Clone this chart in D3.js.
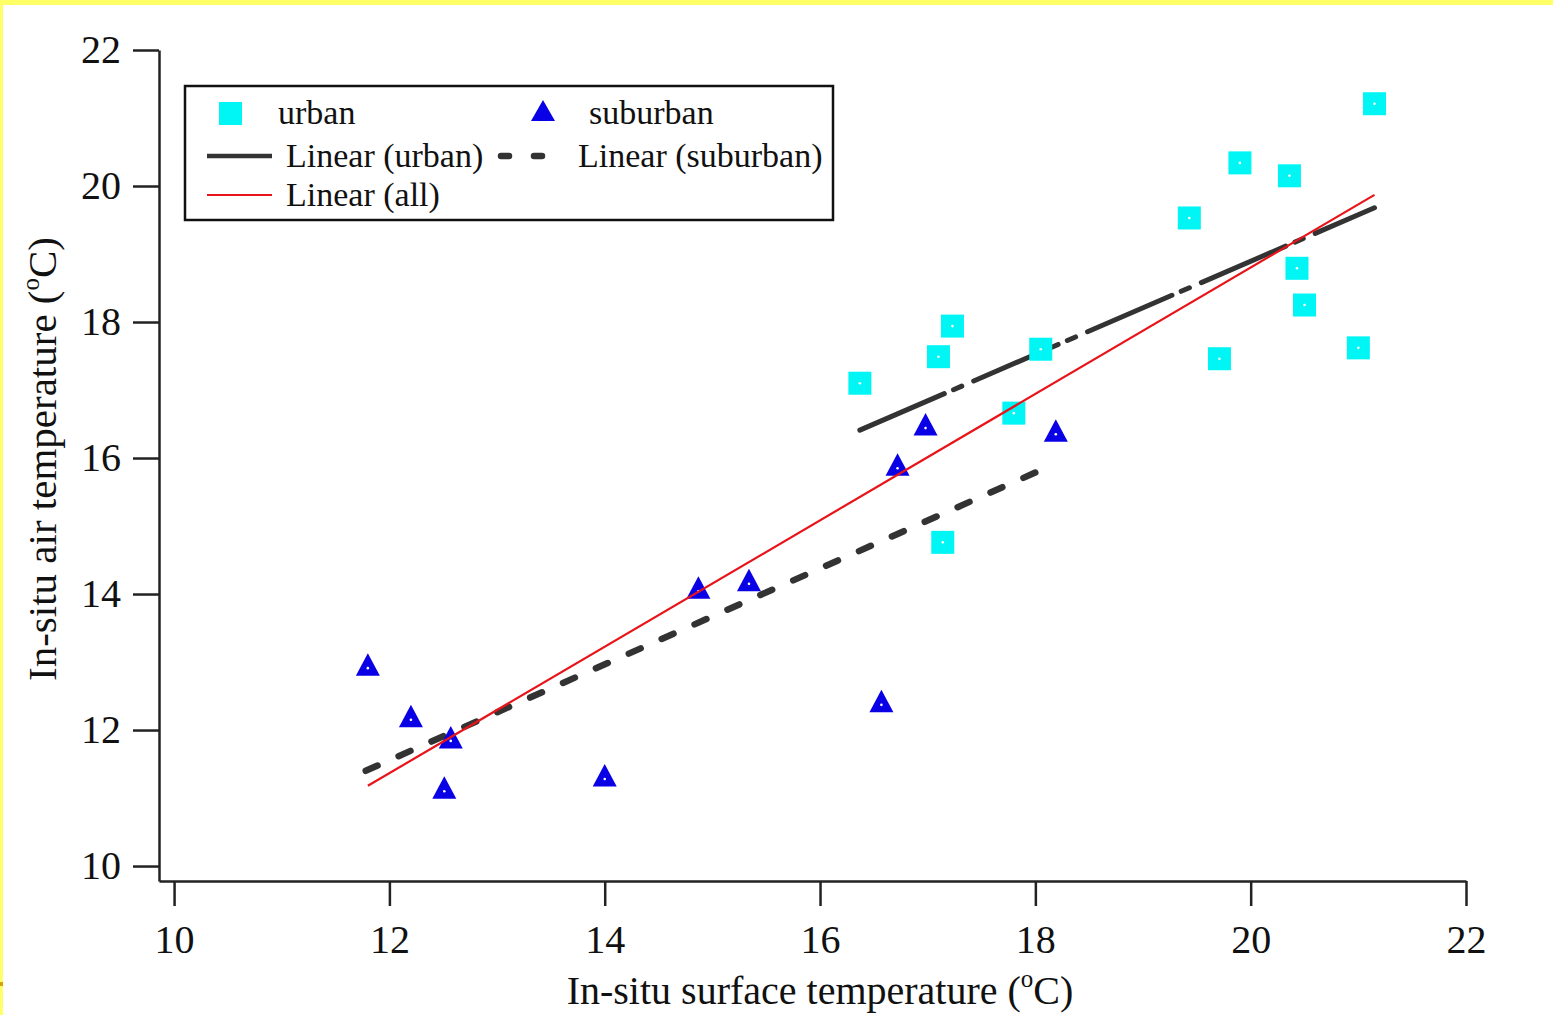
<!DOCTYPE html>
<html>
<head>
<meta charset="utf-8">
<script src="https://cdn.jsdelivr.net/npm/d3@7"></script>
<style>
  body { margin: 0; background: #fff; }
  text { font-family: "Liberation Serif", "Times New Roman", serif; fill: #111; }
</style>
</head>
<body>
<script>
// Values
const urbanX = [16.37, 17.10, 17.23, 17.80, 18.05, 17.14, 19.43, 19.90, 20.36, 20.43, 20.50, 19.71, 21.00, 21.15];
const urbanY = [17.10, 17.49, 17.94, 16.66, 17.60, 14.76, 19.53, 20.34, 20.15, 18.79, 18.25, 17.46, 17.62, 21.21];
const suburbX = [11.80, 12.20, 12.57, 12.51, 14.00, 14.87, 15.34, 16.57, 16.72, 16.98, 18.19];
const suburbY = [12.91, 12.15, 11.84, 11.10, 11.28, 14.04, 14.15, 12.37, 15.85, 16.44, 16.35];

// trend line end points (x, y)
const fitUrban = [[16.37, 16.41], [21.15, 19.68]];
const fitSuburb = [[11.78, 11.40], [18.09, 15.85]];
const fitAll = [[11.80, 11.18], [21.15, 19.87]];

const xTicks = [10, 12, 14, 16, 18, 20, 22];
const yTicks = [10, 12, 14, 16, 18, 20, 22];

const W = 1553, H = 1015;
const svg = d3.select("body").append("svg")
  .attr("width", W)
  .attr("height", H);

// yellow frame on top and left
svg.append("rect").attr("x", 0).attr("y", 0).attr("width", W).attr("height", 5).attr("fill", "#ffff66");
svg.append("rect").attr("x", 0).attr("y", 0).attr("width", 3).attr("height", H).attr("fill", "#ffff66");
svg.append("rect").attr("x", 0).attr("y", 982).attr("width", 3).attr("height", 4).attr("fill", "#d9a400");

const x = d3.scaleLinear().domain([9.86, 22]).range([159, 1466]);
const y = d3.scaleLinear().domain([9.78, 22]).range([881, 50]);

const xAxis = svg.append("g")
  .attr("transform", "translate(0,881)")
  .call(d3.axisBottom(x).tickValues(xTicks).tickFormat(d3.format("d"))
    .tickSize(25).tickSizeOuter(0).tickPadding(19));
const yAxis = svg.append("g")
  .attr("transform", "translate(159,0)")
  .call(d3.axisLeft(y).tickValues(yTicks).tickFormat(d3.format("d"))
    .tickSize(26).tickSizeOuter(0).tickPadding(12));

[xAxis, yAxis].forEach(function (g) {
  g.selectAll("path.domain").attr("stroke", "#222").attr("stroke-width", 2.5);
  g.selectAll(".tick line").attr("stroke", "#222").attr("stroke-width", 2.5);
  g.selectAll(".tick text")
    .attr("font-family", "Liberation Serif, Times New Roman, serif")
    .attr("font-size", 40)
    .attr("fill", "#111");
});

// axis titles
const xTitle = svg.append("text")
  .attr("x", 820).attr("y", 1004)
  .attr("text-anchor", "middle")
  .attr("font-size", 40);
xTitle.append("tspan").text("In-situ surface temperature (");
xTitle.append("tspan").attr("font-size", 25).attr("dy", -17).text("o");
xTitle.append("tspan").attr("dy", 17).text("C)");

const yTitle = svg.append("text")
  .attr("transform", "translate(56,459) rotate(-90)")
  .attr("text-anchor", "middle")
  .attr("font-size", 41);
yTitle.append("tspan").text("In-situ air temperature (");
yTitle.append("tspan").attr("font-size", 25).attr("dy", -17).text("o");
yTitle.append("tspan").attr("dy", 17).text("C)");

// trend lines
const line = d3.line().x(d => x(d[0])).y(d => y(d[1]));

svg.append("path").datum(fitSuburb)
  .attr("d", line)
  .attr("fill", "none")
  .attr("stroke", "#333")
  .attr("stroke-width", 6.5)
  .attr("stroke-linecap", "round")
  .attr("stroke-dasharray", "13,23");

svg.append("path").datum(fitUrban)
  .attr("d", line)
  .attr("fill", "none")
  .attr("stroke", "#333")
  .attr("stroke-width", 5)
  .attr("stroke-linecap", "round")
  .attr("stroke-dasharray", "92,10,9,13");

// markers
const urban = urbanX.map((v, i) => [v, urbanY[i]]);
const suburb = suburbX.map((v, i) => [v, suburbY[i]]);

const sq = svg.append("g");
sq.selectAll("rect").data(urban).enter().append("rect")
  .attr("x", d => x(d[0]) - 11.5)
  .attr("y", d => y(d[1]) - 11.5)
  .attr("width", 23).attr("height", 23)
  .attr("fill", "#00f5f5");
sq.selectAll("circle").data(urban).enter().append("circle")
  .attr("cx", d => x(d[0])).attr("cy", d => y(d[1]))
  .attr("r", 1.3).attr("fill", "#fff");

const tri = svg.append("g");
tri.selectAll("path").data(suburb).enter().append("path")
  .attr("d", d => {
    const cx = x(d[0]), cy = y(d[1]);
    return "M" + cx + "," + (cy - 15) + "L" + (cx + 12) + "," + (cy + 7.5) + "L" + (cx - 12) + "," + (cy + 7.5) + "Z";
  })
  .attr("fill", "#0a00e6");
tri.selectAll("circle").data(suburb).enter().append("circle")
  .attr("cx", d => x(d[0])).attr("cy", d => y(d[1]))
  .attr("r", 1.3).attr("fill", "#fff");

svg.append("path").datum(fitAll)
  .attr("d", line)
  .attr("fill", "none")
  .attr("stroke", "#e8141a")
  .attr("stroke-width", 2.2);

// legend
const lg = svg.append("g");
lg.append("rect")
  .attr("x", 185).attr("y", 86).attr("width", 648).attr("height", 134)
  .attr("fill", "#fff").attr("stroke", "#111").attr("stroke-width", 2.5);

lg.append("rect").attr("x", 219).attr("y", 102).attr("width", 23).attr("height", 23).attr("fill", "#00f5f5");
lg.append("text").attr("x", 278).attr("y", 124).attr("font-size", 34).text("urban");

lg.append("path").attr("d", "M543,100L555,121L531,121Z").attr("fill", "#0a00e6");
lg.append("text").attr("x", 589).attr("y", 124).attr("font-size", 34).text("suburban");

lg.append("line").attr("x1", 207).attr("x2", 272).attr("y1", 156).attr("y2", 156)
  .attr("stroke", "#333").attr("stroke-width", 4.5);
lg.append("text").attr("x", 286).attr("y", 167).attr("font-size", 34).text("Linear (urban)");

lg.append("line").attr("x1", 501).attr("x2", 546).attr("y1", 156).attr("y2", 156)
  .attr("stroke", "#333").attr("stroke-width", 6.5)
  .attr("stroke-linecap", "round").attr("stroke-dasharray", "8,25");
lg.append("text").attr("x", 578).attr("y", 167).attr("font-size", 34).text("Linear (suburban)");

lg.append("line").attr("x1", 207).attr("x2", 272).attr("y1", 195).attr("y2", 195)
  .attr("stroke", "#e8141a").attr("stroke-width", 2.2);
lg.append("text").attr("x", 286).attr("y", 206).attr("font-size", 34).text("Linear (all)");
</script>
</body>
</html>
